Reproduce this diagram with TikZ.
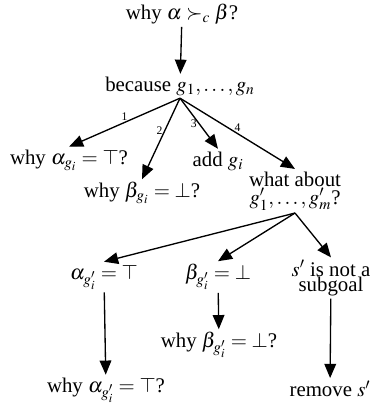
\documentclass[tikz,border=0pt]{standalone}
\usepackage{amsmath,amssymb}
\usepackage{mathptmx}
\usepackage{fontspec}
\setmainfont{Liberation Serif}
\usetikzlibrary{arrows.meta,positioning}

\begin{document}
\begin{tikzpicture}[x=0.6pt, y=-0.6pt, >={Triangle[length=8.5pt,width=7pt]}, font=\fontsize{12.5}{9}\selectfont]
    \tikzstyle{item} = [inner sep=1.5pt, align=center]
    \tikzstyle{link} = [->, thick]
    \tikzstyle{num} = [font=\scriptsize, inner sep=1pt]
    \useasboundingbox (0,0) rectangle (378,414);

    \node [item] (why) at (182,14) {why $\alpha \succ_c \beta$?};
    \node [item] (because) at (180,86) {because $g_1,\ldots,g_n$};
    \node [item] (whyA) at (69,160) {why $\alpha_{g_i} = \top$?};
    \node [item] (whyB) at (142,193) {why $\beta_{g_i} = \bot$?};
    \node [item] (add) at (218,161) {add $g_i$};
    \node [item] (what) at (295,191) {what about\\$g'_1,\ldots,g'_m$?};
    \node [item] (alphaP) at (104,277) {$\alpha_{g'_i} = \top$};
    \node [item] (betaP) at (218,277) {$\beta_{g'_i} = \bot$};
    \node [item] (snot) at (331,278) {$s'$ is not a\\subgoal};
    \node [item] (whyBP) at (219,345) {why $\beta_{g'_i} = \bot$?};
    \node [item] (whyAP) at (106,390) {why $\alpha_{g'_i} = \top$?};
    \node [item] (remove) at (330,389) {remove $s'$};

    \draw [link] (why) -- (because);
    \draw [link] (because.south) -- (whyA.north) node[num, midway, above] {1};
    \draw [link] (because.south) -- (whyB.north) node[num, pos=0.4, left] {2};
    \draw [link] (because.south) -- (add.north) node[num, midway, left] {3};
    \draw [link] (because.south) -- (what.north) node[num, midway, above] {4};
    \draw [link] (what.south) -- (alphaP.north);
    \draw [link] (what.south) -- (betaP.north);
    \draw [link] (what.south) -- (snot.north);
    \draw [link] (alphaP) -- (whyAP);
    \draw [link] (betaP) -- (whyBP);
    \draw [link] (snot) -- (remove);
\end{tikzpicture}
\end{document}
